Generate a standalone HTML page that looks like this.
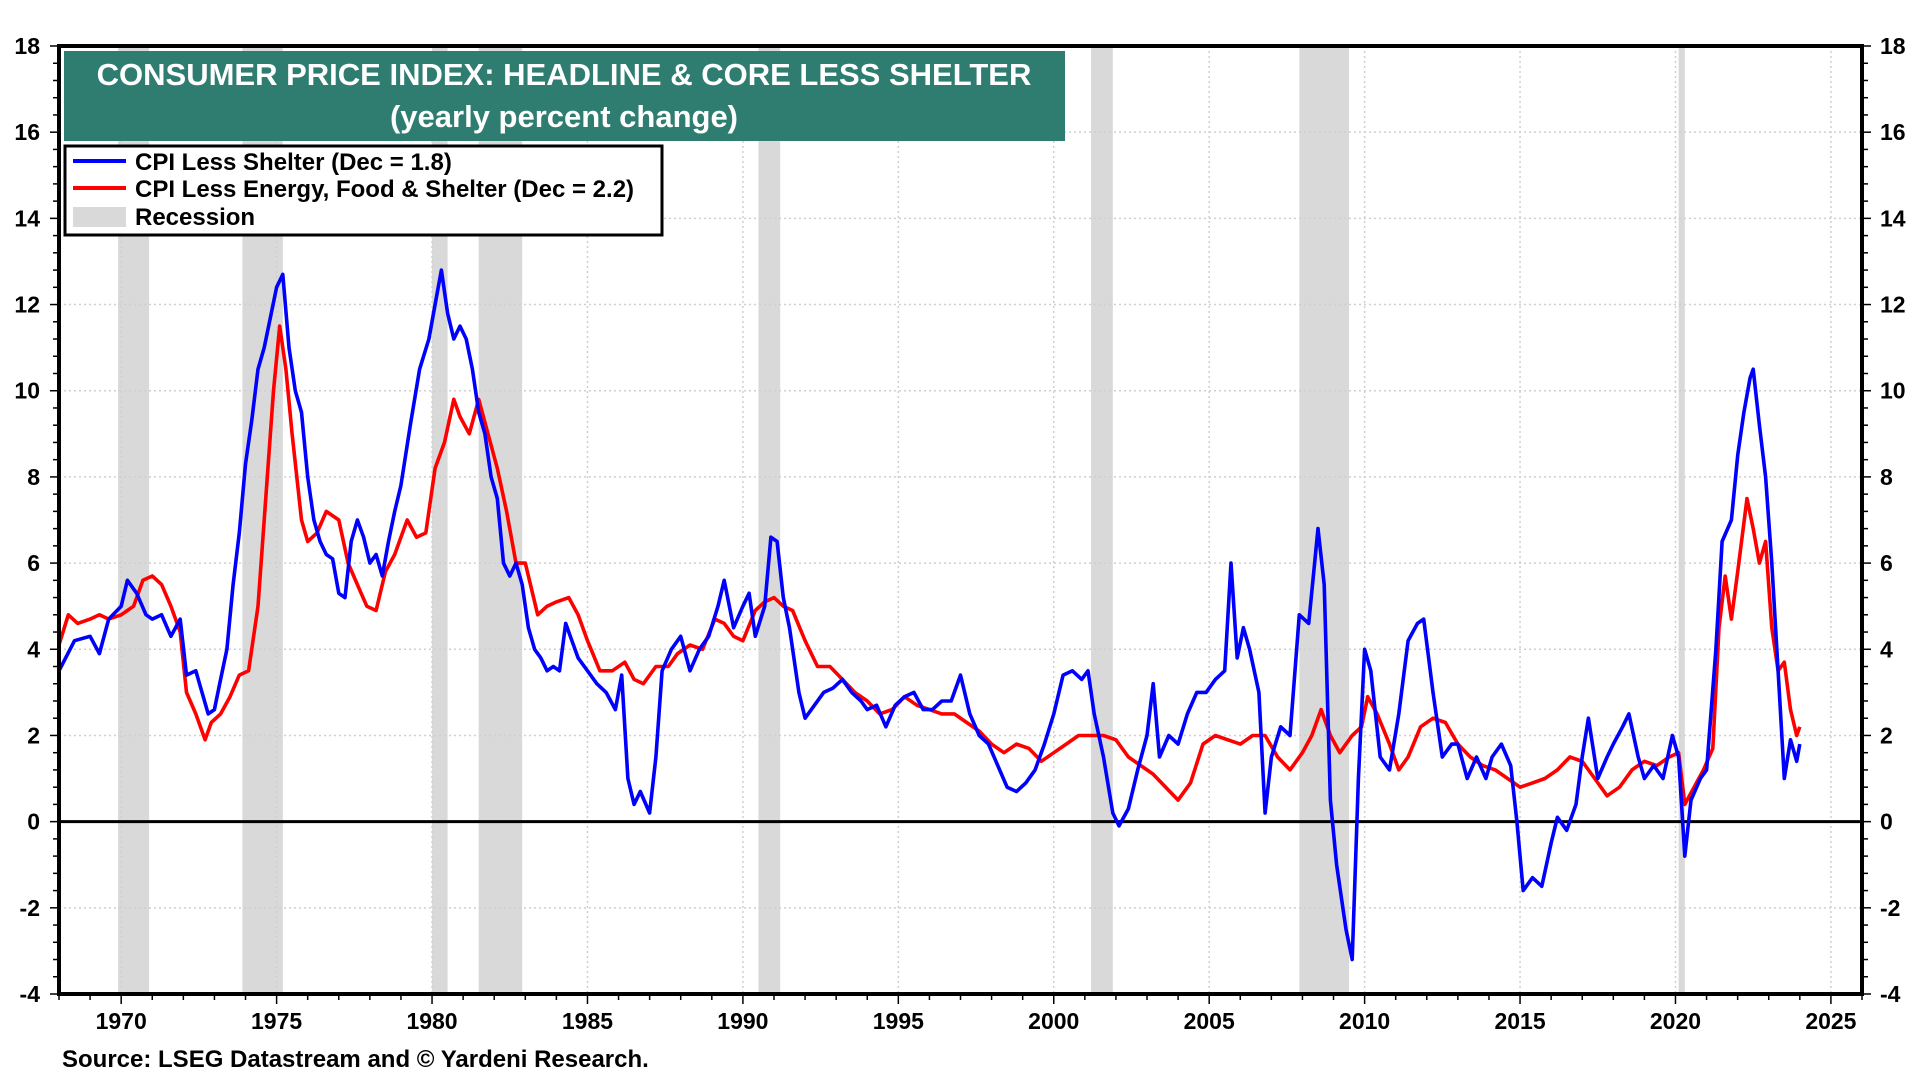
<!DOCTYPE html>
<html><head><meta charset="utf-8"><style>
html,body{margin:0;padding:0;background:#fff;width:1920px;height:1080px;overflow:hidden}
svg{display:block;font-family:"Liberation Sans",Arial,sans-serif;font-weight:bold}
</style></head><body>
<svg id="chart" width="1920" height="1080" viewBox="0 0 1920 1080"></svg>
<script>
const recessions=[[1969.9,1970.9],[1973.9,1975.2],[1980.0,1980.5],[1981.5,1982.9],[1990.5,1991.2],[2001.2,2001.9],[2007.9,2009.5],[2020.1,2020.3]];
const xTicks=[1970,1975,1980,1985,1990,1995,2000,2005,2010,2015,2020,2025];
const yTicks=[-4,-2,0,2,4,6,8,10,12,14,16,18];
const blueYears=[1968.0,1968.5,1969.0,1969.3,1969.6,1970.0,1970.2,1970.5,1970.8,1971.0,1971.3,1971.6,1971.9,1972.1,1972.4,1972.6,1972.8,1973.0,1973.2,1973.4,1973.6,1973.8,1974.0,1974.2,1974.4,1974.6,1974.8,1975.0,1975.2,1975.4,1975.6,1975.8,1976.0,1976.2,1976.4,1976.6,1976.8,1977.0,1977.2,1977.4,1977.6,1977.8,1978.0,1978.2,1978.4,1978.6,1978.8,1979.0,1979.3,1979.6,1979.9,1980.1,1980.3,1980.5,1980.7,1980.9,1981.1,1981.3,1981.5,1981.7,1981.9,1982.1,1982.3,1982.5,1982.7,1982.9,1983.1,1983.3,1983.5,1983.7,1983.9,1984.1,1984.3,1984.5,1984.7,1985.0,1985.3,1985.6,1985.9,1986.1,1986.3,1986.5,1986.7,1987.0,1987.2,1987.4,1987.7,1988.0,1988.3,1988.6,1988.9,1989.2,1989.4,1989.7,1990.0,1990.2,1990.4,1990.7,1990.9,1991.1,1991.3,1991.5,1991.8,1992.0,1992.3,1992.6,1992.9,1993.2,1993.5,1993.8,1994.0,1994.3,1994.6,1994.9,1995.2,1995.5,1995.8,1996.1,1996.4,1996.7,1997.0,1997.3,1997.6,1997.9,1998.2,1998.5,1998.8,1999.1,1999.4,1999.7,2000.0,2000.3,2000.6,2000.9,2001.1,2001.3,2001.6,2001.9,2002.1,2002.4,2002.7,2003.0,2003.2,2003.4,2003.7,2004.0,2004.3,2004.6,2004.9,2005.2,2005.5,2005.7,2005.9,2006.1,2006.3,2006.6,2006.8,2007.0,2007.3,2007.6,2007.9,2008.2,2008.5,2008.7,2008.9,2009.1,2009.4,2009.6,2009.8,2010.0,2010.2,2010.5,2010.8,2011.1,2011.4,2011.7,2011.9,2012.2,2012.5,2012.8,2013.0,2013.3,2013.6,2013.9,2014.1,2014.4,2014.7,2014.9,2015.1,2015.4,2015.7,2016.0,2016.2,2016.5,2016.8,2017.0,2017.2,2017.5,2017.8,2018.0,2018.3,2018.5,2018.8,2019.0,2019.3,2019.6,2019.9,2020.1,2020.3,2020.5,2020.8,2021.0,2021.3,2021.5,2021.8,2022.0,2022.2,2022.4,2022.5,2022.7,2022.9,2023.1,2023.3,2023.5,2023.7,2023.9,2024.0];
const blueValues=[3.5,4.2,4.3,3.9,4.7,5.0,5.6,5.3,4.8,4.7,4.8,4.3,4.7,3.4,3.5,3.0,2.5,2.6,3.3,4.0,5.5,6.7,8.3,9.3,10.5,11.0,11.7,12.4,12.7,11.0,10.0,9.5,8.0,7.0,6.5,6.2,6.1,5.3,5.2,6.5,7.0,6.6,6.0,6.2,5.7,6.5,7.2,7.8,9.2,10.5,11.2,12.0,12.8,11.8,11.2,11.5,11.2,10.5,9.5,9.0,8.0,7.5,6.0,5.7,6.0,5.5,4.5,4.0,3.8,3.5,3.6,3.5,4.6,4.2,3.8,3.5,3.2,3.0,2.6,3.4,1.0,0.4,0.7,0.2,1.5,3.5,4.0,4.3,3.5,4.0,4.3,5.0,5.6,4.5,5.0,5.3,4.3,5.0,6.6,6.5,5.2,4.5,3.0,2.4,2.7,3.0,3.1,3.3,3.0,2.8,2.6,2.7,2.2,2.7,2.9,3.0,2.6,2.6,2.8,2.8,3.4,2.5,2.0,1.8,1.3,0.8,0.7,0.9,1.2,1.8,2.5,3.4,3.5,3.3,3.5,2.5,1.5,0.2,-0.1,0.3,1.2,2.0,3.2,1.5,2.0,1.8,2.5,3.0,3.0,3.3,3.5,6.0,3.8,4.5,4.0,3.0,0.2,1.5,2.2,2.0,4.8,4.6,6.8,5.5,0.5,-1.0,-2.5,-3.2,1.0,4.0,3.5,1.5,1.2,2.5,4.2,4.6,4.7,3.0,1.5,1.8,1.8,1.0,1.5,1.0,1.5,1.8,1.3,0.0,-1.6,-1.3,-1.5,-0.5,0.1,-0.2,0.4,1.5,2.4,1.0,1.5,1.8,2.2,2.5,1.5,1.0,1.3,1.0,2.0,1.5,-0.8,0.5,1.0,1.2,4.0,6.5,7.0,8.5,9.5,10.3,10.5,9.2,8.0,6.0,3.5,1.0,1.9,1.4,1.8];
const redYears=[1968.0,1968.3,1968.6,1969.0,1969.3,1969.6,1970.0,1970.4,1970.7,1971.0,1971.3,1971.6,1971.9,1972.1,1972.4,1972.7,1972.9,1973.2,1973.5,1973.8,1974.1,1974.4,1974.7,1974.9,1975.1,1975.3,1975.5,1975.8,1976.0,1976.3,1976.6,1977.0,1977.3,1977.6,1977.9,1978.2,1978.5,1978.8,1979.2,1979.5,1979.8,1980.1,1980.4,1980.7,1980.9,1981.2,1981.5,1981.8,1982.1,1982.4,1982.7,1983.0,1983.4,1983.7,1984.0,1984.4,1984.7,1985.0,1985.4,1985.8,1986.2,1986.5,1986.8,1987.2,1987.6,1987.9,1988.3,1988.7,1989.1,1989.4,1989.7,1990.0,1990.4,1990.7,1991.0,1991.3,1991.6,1992.0,1992.4,1992.8,1993.2,1993.6,1994.0,1994.4,1994.8,1995.2,1995.6,1996.0,1996.4,1996.8,1997.2,1997.6,1998.0,1998.4,1998.8,1999.2,1999.6,2000.0,2000.4,2000.8,2001.2,2001.6,2002.0,2002.4,2002.8,2003.2,2003.6,2004.0,2004.4,2004.8,2005.2,2005.6,2006.0,2006.4,2006.8,2007.2,2007.6,2008.0,2008.3,2008.6,2008.9,2009.2,2009.6,2009.9,2010.1,2010.4,2010.8,2011.1,2011.4,2011.8,2012.2,2012.6,2013.0,2013.4,2013.8,2014.2,2014.6,2015.0,2015.4,2015.8,2016.2,2016.6,2017.0,2017.4,2017.8,2018.2,2018.6,2019.0,2019.4,2019.8,2020.1,2020.3,2020.6,2020.9,2021.2,2021.4,2021.6,2021.8,2022.0,2022.3,2022.5,2022.7,2022.9,2023.1,2023.3,2023.5,2023.7,2023.9,2024.0];
const redValues=[4.1,4.8,4.6,4.7,4.8,4.7,4.8,5.0,5.6,5.7,5.5,5.0,4.4,3.0,2.5,1.9,2.3,2.5,2.9,3.4,3.5,5.0,8.0,10.0,11.5,10.5,9.0,7.0,6.5,6.7,7.2,7.0,6.0,5.5,5.0,4.9,5.8,6.2,7.0,6.6,6.7,8.2,8.8,9.8,9.4,9.0,9.8,9.0,8.2,7.2,6.0,6.0,4.8,5.0,5.1,5.2,4.8,4.2,3.5,3.5,3.7,3.3,3.2,3.6,3.6,3.9,4.1,4.0,4.7,4.6,4.3,4.2,4.9,5.1,5.2,5.0,4.9,4.2,3.6,3.6,3.3,3.0,2.8,2.5,2.6,2.9,2.7,2.6,2.5,2.5,2.3,2.1,1.8,1.6,1.8,1.7,1.4,1.6,1.8,2.0,2.0,2.0,1.9,1.5,1.3,1.1,0.8,0.5,0.9,1.8,2.0,1.9,1.8,2.0,2.0,1.5,1.2,1.6,2.0,2.6,2.0,1.6,2.0,2.2,2.9,2.5,1.8,1.2,1.5,2.2,2.4,2.3,1.8,1.5,1.3,1.2,1.0,0.8,0.9,1.0,1.2,1.5,1.4,1.0,0.6,0.8,1.2,1.4,1.3,1.5,1.6,0.4,0.8,1.2,1.7,4.5,5.7,4.7,5.8,7.5,6.8,6.0,6.5,4.5,3.5,3.7,2.6,2.0,2.2];

const NS='http://www.w3.org/2000/svg';
const svg=document.getElementById('chart');
const L=59,R=1862,T=46,B=994,X0=1968.0,X1=2026.0,Y0=-4,Y1=18;
const xs=v=>L+(v-X0)/(X1-X0)*(R-L);
const ys=v=>B-(v-Y0)/(Y1-Y0)*(B-T);
function mk(tag,attrs,parent){const e=document.createElementNS(NS,tag);for(const k in attrs)e.setAttribute(k,attrs[k]);(parent||svg).appendChild(e);return e;}

recessions.forEach(r=>{
  const e=mk('rect',{x:xs(r[0]),y:T,width:xs(r[1])-xs(r[0]),height:B-T,fill:'#d9d9d9'});
  
  
});
yTicks.forEach(v=>{
  if(v===Y0||v===Y1||v===0)return;
  const g=mk('line',{x1:L,x2:R,y1:ys(v),y2:ys(v),stroke:'#cfcfcf','stroke-width':1.5,'stroke-dasharray':'2,3'});
  
  
});
xTicks.forEach(v=>{
  const g=mk('line',{x1:xs(v),x2:xs(v),y1:T,y2:B,stroke:'#cfcfcf','stroke-width':1.5,'stroke-dasharray':'2,3'});
  
  
});
const z=mk('line',{x1:L,x2:R,y1:ys(0),y2:ys(0),stroke:'#000','stroke-width':3});



function series(xa,va,color,name){
  let d='';
  xa.forEach((x,i)=>{d+=(i?'L':'M')+xs(x).toFixed(1)+','+ys(va[i]).toFixed(1);});
  const p=mk('path',{d:d,fill:'none',stroke:color,'stroke-width':3.6,'stroke-linejoin':'round'});
  
  
}
series(redYears,redValues,'#ff0000','core-less-shelter-line');
series(blueYears,blueValues,'#0000ff','cpi-less-shelter-line');

const f=mk('rect',{x:L,y:T,width:R-L,height:B-T,fill:'none',stroke:'#000','stroke-width':4});



for(let v=Y0;v<=Y1+0.001;v+=0.4){
  const major=Math.abs(v-Math.round(v))<0.01&&Math.round(v)%2===0;
  const len=major?9:6;
  mk('line',{x1:L-len,x2:L,y1:ys(v),y2:ys(v),stroke:'#000','stroke-width':1.5});
  mk('line',{x1:R,x2:R+len,y1:ys(v),y2:ys(v),stroke:'#000','stroke-width':1.5});
}
yTicks.forEach(v=>{
  const a=mk('text',{x:40,y:ys(v)+8,'text-anchor':'end','font-size':23});
  a.textContent=v;
  
  
  const b=mk('text',{x:1880,y:ys(v)+8,'text-anchor':'start','font-size':23});
  b.textContent=v;
  
  
});
for(let yr=1968;yr<=2026;yr++){
  const major=yr%5===0;
  mk('line',{x1:xs(yr),x2:xs(yr),y1:B,y2:B+(major?10:6),stroke:'#000','stroke-width':1.5});
}
xTicks.forEach(v=>{
  const t=mk('text',{x:xs(v),y:1029,'text-anchor':'middle','font-size':23});
  t.textContent=v;
  
  
});
</script>
<svg style="position:absolute;left:0;top:0" width="1920" height="1080">
  <g>
    <rect x="64" y="51" width="1001" height="90" fill="#2e7d70"/>
    <text x="564" y="85" text-anchor="middle" fill="#fff" font-size="31" font-family="Liberation Sans, Arial, sans-serif" font-weight="bold">CONSUMER PRICE INDEX: HEADLINE &amp; CORE LESS SHELTER</text>
    <text x="564" y="127" text-anchor="middle" fill="#fff" font-size="31" font-family="Liberation Sans, Arial, sans-serif" font-weight="bold">(yearly percent change)</text>
  </g>
  <g font-family="Liberation Sans, Arial, sans-serif" font-weight="bold" font-size="24">
    <rect x="65" y="146" width="597" height="89" fill="#fff" stroke="#000" stroke-width="3"/>
    <line x1="73" x2="126" y1="161" y2="161" stroke="#0000ff" stroke-width="4"/>
    <text x="135" y="170">CPI Less Shelter (Dec = 1.8)</text>
    <line x1="73" x2="126" y1="188" y2="188" stroke="#ff0000" stroke-width="4"/>
    <text x="135" y="197">CPI Less Energy, Food &amp; Shelter (Dec = 2.2)</text>
    <rect x="73" y="207" width="53" height="20" fill="#d9d9d9"/>
    <text x="135" y="225">Recession</text>
  </g>
  <text x="62" y="1067" font-size="24" font-family="Liberation Sans, Arial, sans-serif" font-weight="bold">Source: LSEG Datastream and © Yardeni Research.</text>
</svg>
</body></html>
